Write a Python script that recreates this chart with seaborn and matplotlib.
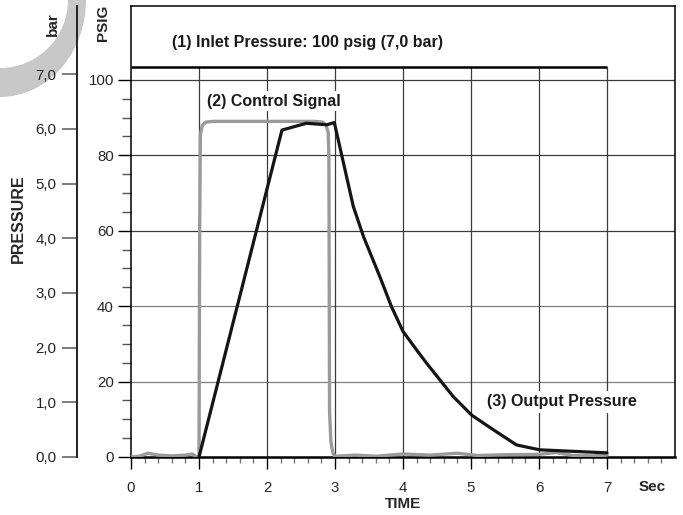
import matplotlib
matplotlib.use("Agg")
import matplotlib.pyplot as plt
import seaborn as sns
import numpy as np
from matplotlib.patches import Ellipse

sns.set_style("white")
plt.rcParams['font.family'] = ['Liberation Sans', 'DejaVu Sans']

# ---- data (time in s, pressure in psig) ----
control_t = [0.0, 0.12, 0.25, 0.4, 0.6, 0.8, 0.9, 0.97, 1.0, 1.01, 1.02, 1.05, 1.1, 1.2,
             1.6, 2.2, 2.7, 2.82, 2.87, 2.9, 2.91, 2.92, 2.94, 2.97, 3.0, 3.3,
             3.6, 4.0, 4.4, 4.8, 5.1, 5.5, 6.0, 6.25, 6.5, 6.8, 7.0]
control_p = [0.0, 0.2, 1.0, 0.5, 0.3, 0.5, 0.8, 0.0, -0.4, 60.0, 85.5, 88.0, 88.8, 89.0,
             89.0, 89.0, 89.0, 88.8, 88.0, 86.0, 80.0, 12.0, 4.0, 1.0, 0.2, 0.5,
             0.2, 0.8, 0.5, 1.0, 0.4, 0.6, 0.7, 1.2, 0.4, 0.3, 0.5]

output_t = [1.0, 2.22, 2.58, 2.88, 2.99, 3.27, 3.42, 3.66, 3.83, 4.0, 4.2, 4.35, 4.74,
            5.01, 5.33, 5.67, 6.01, 7.0]
output_p = [0.0, 86.7, 88.5, 88.1, 88.7, 66.4, 58.4, 47.8, 39.9, 33.3, 28.4, 24.8, 16.0,
            11.1, 7.2, 3.2, 1.9, 1.1]

inlet_psi = 103.5
inlet_end = 7.0

psi_ticks = [0, 20, 40, 60, 80, 100]
bar_ticks = [0, 1, 2, 3, 4, 5, 6, 7]
bar_labels = ['0,0', '1,0', '2,0', '3,0', '4,0', '5,0', '6,0', '7,0']
time_ticks = [0, 1, 2, 3, 4, 5, 6, 7]
PSI_PER_BAR = 14.5038

fig = plt.figure(figsize=(6.83, 5.15), dpi=100)

# decorative grey arc in the corner (outer grey ellipse minus inner white one)
fig.add_artist(Ellipse((0, 1), 2 * 86 / 683, 2 * 97 / 515, transform=fig.transFigure,
                       facecolor='#c8c8c8', edgecolor='none', zorder=0))
fig.add_artist(Ellipse((0, 1), 2 * 68 / 683, 2 * 68 / 515, transform=fig.transFigure,
                       facecolor='white', edgecolor='none', zorder=0))

ax = fig.add_axes([131 / 683, 1 - 457 / 515, 544 / 683, 451 / 515])
ax.set_xlim(0, 8)
ax.set_ylim(0, 119.6)

# grid: horizontal lines across, vertical lines only under the inlet line
grid_col = '#3a3a3a'
for p in psi_ticks[1:]:
    ax.axhline(p, color='#808080' if p in (20, 40) else grid_col, lw=0.9, zorder=1)
ax.vlines(time_ticks[1:], 0, inlet_psi, color=grid_col, lw=0.9, zorder=1)
ax.hlines(inlet_psi, 0, inlet_end, color='black', lw=1.8, zorder=2)

sns.lineplot(x=control_t, y=control_p, ax=ax, color='#9a9a9a', lw=2.4,
             estimator=None, sort=False, zorder=3)
sns.lineplot(x=output_t, y=output_p, ax=ax, color='#151515', lw=2.3,
             estimator=None, sort=False, zorder=4)

# annotations
lab_kw = dict(fontsize=11.5, fontweight='bold', va='center', ha='left', color='#1a1a1a')
ax.text(0.60, 110, '(1) Inlet Pressure: 100 psig (7,0 bar)', **lab_kw)
ax.text(1.12, 94.4, '(2) Control Signal', zorder=5,
        bbox=dict(facecolor='white', edgecolor='none', pad=1.5), **lab_kw)
ax.text(5.24, 14.7, '(3) Output Pressure', zorder=5,
        bbox=dict(facecolor='white', edgecolor='none', pad=2.5), **lab_kw)

# spines and ticks
for s in ['left', 'top', 'right']:
    ax.spines[s].set_linewidth(1.1)
    ax.spines[s].set_color('black')
ax.spines['bottom'].set_linewidth(1.8)
ax.spines['bottom'].set_color('black')

ax.set_xticks(time_ticks)
ax.set_xticks([t for t in np.arange(0, 7.9, 0.2) if abs(t - round(t)) > 1e-6], minor=True)
ax.set_yticks(psi_ticks)
ax.set_yticks([p for p in range(5, 100, 5) if p % 20], minor=True)
ax.tick_params(axis='x', which='major', direction='out', length=8.6, width=1.0,
               color='black', labelsize=10.8, pad=9, bottom=True)
ax.tick_params(axis='x', which='minor', direction='out', length=4.3, width=1.0,
               color='#777777', bottom=True)
ax.tick_params(axis='y', which='major', direction='out', length=9.4, width=1.0,
               color='black', labelsize=10.8, pad=3, left=True)
ax.tick_params(axis='y', which='minor', direction='out', length=6.5, width=1.0,
               color='#555555', left=True)
ax.set_xlabel('TIME', fontsize=11, fontweight='bold', labelpad=1)
ax.set_ylabel('')

# bar axis on the far left
bax = ax.secondary_yaxis(-54 / 544, functions=(lambda p: p / PSI_PER_BAR,
                                               lambda b: b * PSI_PER_BAR))
bax.set_yticks(bar_ticks)
bax.set_yticklabels(bar_labels)
bax.spines['left'].set_linewidth(1.4)
bax.spines['left'].set_color('#222222')
bax.tick_params(axis='y', which='major', direction='out', length=10.8, width=1.2,
                color='#666666', labelsize=10.8, pad=4, labelcolor='#222222')
bax.tick_params(axis='y', which='minor', left=False)

# free labels
fig.text(652 / 683, 1 - 487 / 515, 'Sec', fontsize=11, fontweight='bold',
         ha='center', va='center')
fig.text(103 / 683, 1 - 23 / 515, 'PSIG', fontsize=11, fontweight='bold',
         rotation=90, ha='center', va='center')
fig.text(53 / 683, 1 - 24 / 515, 'bar', fontsize=11, fontweight='bold',
         rotation=90, ha='center', va='center')
fig.text(18 / 683, 1 - 219 / 515, 'PRESSURE', fontsize=11.5, fontweight='bold',
         rotation=90, ha='center', va='center')

fig.savefig('out.png', dpi=100)
